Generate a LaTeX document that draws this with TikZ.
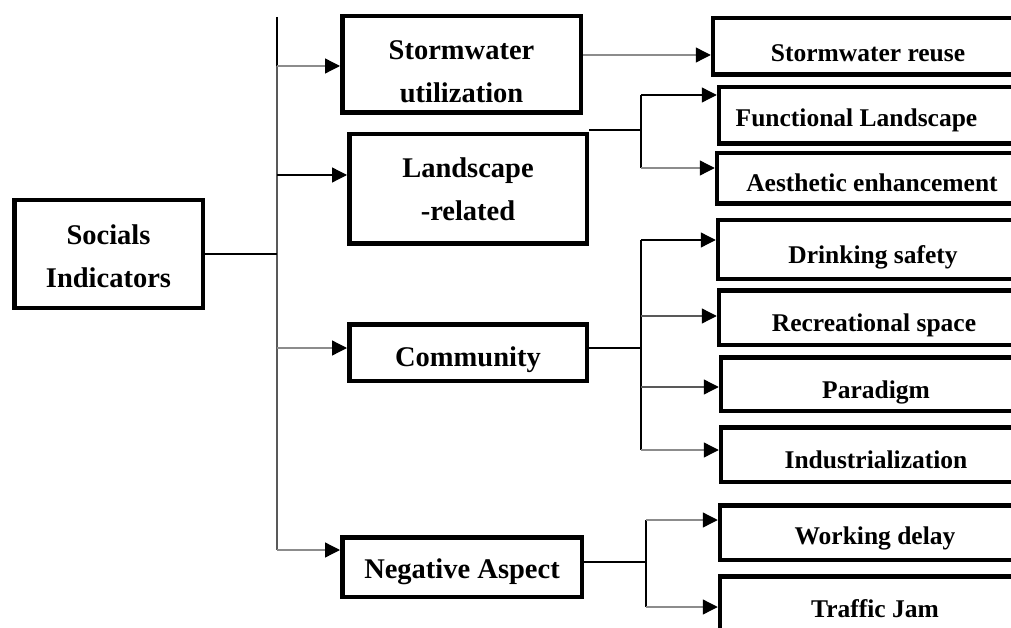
\documentclass[tikz,border=0pt]{standalone}
\usepackage{fontspec}
\setmainfont{Liberation Serif}
\usetikzlibrary{arrows.meta}
\definecolor{lightline}{gray}{0.55}
\definecolor{midline}{gray}{0.35}
% lower a line of text without changing the size of its box
\newcommand\drop[2]{\raisebox{-#1}[\height][\depth]{#2}}
\begin{document}
\begin{tikzpicture}[x=1pt,y=-1pt,
  box/.style={draw, line width=4.5pt, align=center, inner sep=0pt,
    font=\bfseries\fontsize{28.5}{43}\selectfont},
  leaf/.style={draw, line width=4.5pt, inner sep=0pt, minimum width=310pt,
    font=\bfseries\fontsize{25.5}{30}\selectfont},
  link/.style={line width=1.3pt},
  tip/.style={-{Triangle[length=15pt,width=15pt,color=black]}}
]
\useasboundingbox (0,0) rectangle (1011,628);
\clip (0,0) rectangle (1011,628);

% root and second level
\node[box, minimum width=188.5pt, minimum height=107.5pt] (soc) at (108.5,254) {\drop{2.5pt}{Socials}\\\drop{2.5pt}{Indicators}};
\node[box, minimum width=238.5pt, minimum height=96.5pt] (util) at (461.5,64.5) {\drop{7pt}{Stormwater}\\\drop{7pt}{utilization}};
\node[box, minimum width=237.5pt, minimum height=109.5pt] (land) at (468,189) {Landscape\\-related};
\node[box, minimum width=237.5pt, minimum height=56.5pt] (comm) at (468,352.5) {\drop{7pt}{Community}};
\node[box, minimum width=239.5pt, minimum height=59.5pt] (neg) at (462,567) {\drop{5pt}{Negative Aspect}};

% third level
\node[leaf, minimum height=56.5pt] (reuse) at (868,46.5) {\drop{7pt}{Stormwater reuse}};
\node[leaf, minimum height=56.5pt] (func) at (874,115.5) {\drop{5pt}{Functional Landscape}\hspace*{35pt}};
\node[leaf, minimum height=50.5pt] (aest) at (872,178.5) {\drop{4pt}{Aesthetic enhancement}};
\node[leaf, minimum height=58.5pt] (drink) at (873,249.5) {\drop{8pt}{Drinking safety}};
\node[leaf, minimum height=54.5pt] (recr) at (874,317.5) {\drop{8pt}{Recreational space}};
\node[leaf, minimum height=53.5pt] (para) at (876,384) {\drop{8pt}{Paradigm}};
\node[leaf, minimum height=54.5pt] (indu) at (876,454.5) {\drop{5pt}{Industrialization}};
\node[leaf, minimum height=54.5pt] (work) at (875,532.5) {\drop{6pt}{Working delay}};
\node[leaf, minimum height=71.5pt] (traf) at (875,612) {\drop{-3pt}{Traffic Jam}};

% main trunk
\coordinate (ttop) at (277,17);
\coordinate (j1) at (277,66);
\coordinate (j2) at (277,175);
\coordinate (j3) at (277,348);
\coordinate (tbot) at (277,550);
\draw[link] (ttop) -- (j1);
\draw[link, midline] (j1) -- (soc.east -| ttop);
\draw[link, midline] (soc.east -| ttop) -- (tbot);
\draw[link] (soc.east) -- (soc.east -| ttop);
\draw[link, lightline, tip] (j1) -- (j1 -| util.west);
\draw[link, tip] (j2) -- (j2 -| land.west);
\draw[link, lightline, tip] (j3) -- (j3 -| comm.west);
\draw[link, lightline, tip] (tbot) -- (tbot -| neg.west);

% stormwater branch
\coordinate (s1) at (583,55);
\draw[link, lightline, tip] (s1 -| util.east) -- (s1 -| reuse.west);

% landscape branch
\coordinate (b2) at (641,130);
\coordinate (b2t) at (641,95);
\coordinate (b2b) at (641,168);
\draw[link] (b2 -| land.north east) -- (b2);
\draw[link] (b2t) -- (b2b);
\draw[link, tip] (b2t) -- (b2t -| func.west);
\draw[link, lightline, tip] (b2b) -- (b2b -| aest.west);

% community branch
\coordinate (b3) at (641,348);
\coordinate (c1) at (641,240);
\coordinate (c2) at (641,316);
\coordinate (c3) at (641,387);
\coordinate (c4) at (641,450);
\draw[link] (comm.east |- b3) -- (b3);
\draw[link] (c1) -- (c4);
\draw[link, tip] (c1) -- (c1 -| drink.west);
\draw[link, midline, tip] (c2) -- (c2 -| recr.west);
\draw[link, midline, tip] (c3) -- (c3 -| para.west);
\draw[link, lightline, tip] (c4) -- (c4 -| indu.west);

% negative aspect branch
\coordinate (b4) at (646,562);
\coordinate (n1) at (646,520);
\coordinate (n2) at (646,607);
\draw[link] (neg.east |- b4) -- (b4);
\draw[link] (n1) -- (n2);
\draw[link, lightline, tip] (n1) -- (n1 -| work.west);
\draw[link, lightline, tip] (n2) -- (n2 -| traf.west);
\end{tikzpicture}
\end{document}
